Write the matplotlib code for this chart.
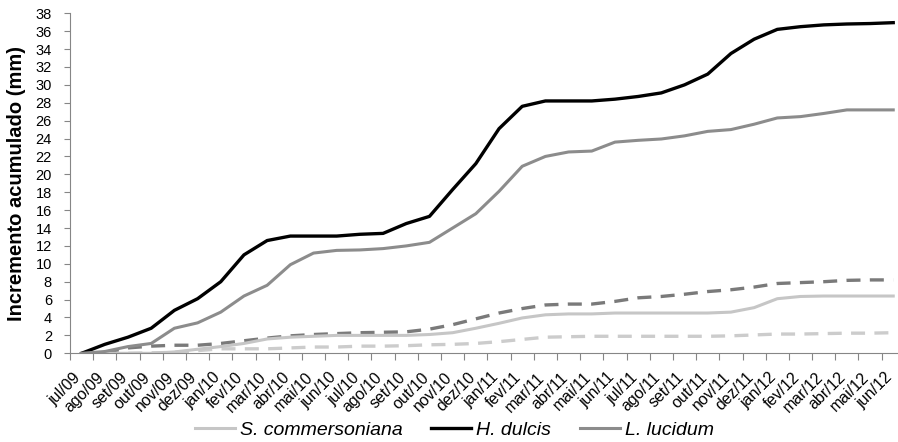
import matplotlib
matplotlib.use("Agg")
import matplotlib.pyplot as plt
import numpy as np

plt.rcParams['font.family'] = ['Liberation Sans', 'DejaVu Sans']

meses = ["jul/09", "ago/09", "set/09", "out/09", "nov/09", "dez/09",
         "jan/10", "fev/10", "mar/10", "abr/10", "mai/10", "jun/10",
         "jul/10", "ago/10", "set/10", "out/10", "nov/10", "dez/10",
         "jan/11", "fev/11", "mar/11", "abr/11", "mai/11", "jun/11",
         "jul/11", "ago/11", "set/11", "out/11", "nov/11", "dez/11",
         "jan/12", "fev/12", "mar/12", "abr/12", "mai/12", "jun/12"]

s_comm = [0, 0, 0, 0, 0.15, 0.45, 0.75, 1.1, 1.6, 1.8, 1.9, 2.0,
          2.0, 2.0, 2.0, 2.1, 2.3, 2.8, 3.35, 3.95, 4.3, 4.4, 4.4, 4.5,
          4.5, 4.5, 4.5, 4.5, 4.6, 5.1, 6.1, 6.35, 6.4, 6.4, 6.4, 6.4]

h_dulcis = [0, 1.0, 1.8, 2.8, 4.8, 6.1, 8.0, 11.0, 12.6, 13.1, 13.1, 13.1,
            13.3, 13.4, 14.5, 15.3, 18.3, 21.2, 25.1, 27.6, 28.2, 28.2, 28.2, 28.4,
            28.7, 29.1, 30.0, 31.2, 33.5, 35.1, 36.2, 36.5, 36.7, 36.8, 36.85, 36.95]

l_lucidum = [0, 0.2, 0.75, 1.1, 2.8, 3.4, 4.6, 6.4, 7.6, 9.9, 11.2, 11.5,
             11.55, 11.7, 12.0, 12.4, 14.0, 15.6, 18.1, 20.9, 22.0, 22.5, 22.6, 23.6,
             23.8, 23.95, 24.3, 24.8, 25.0, 25.6, 26.3, 26.45, 26.8, 27.2, 27.2, 27.2]

# linhas tracejadas (sem legenda)
trac_claro = [0, 0, 0, 0.05, 0.1, 0.3, 0.5, 0.5, 0.5, 0.6, 0.7, 0.7,
              0.8, 0.8, 0.85, 0.95, 1.0, 1.1, 1.3, 1.55, 1.8, 1.85, 1.9, 1.9,
              1.9, 1.9, 1.9, 1.9, 1.95, 2.05, 2.15, 2.15, 2.2, 2.25, 2.25, 2.3]

trac_escuro = [0, 0.1, 0.6, 0.8, 0.9, 0.9, 1.1, 1.4, 1.7, 1.95, 2.1, 2.2,
               2.3, 2.35, 2.4, 2.7, 3.2, 3.85, 4.5, 5.0, 5.4, 5.5, 5.5, 5.8,
               6.2, 6.35, 6.6, 6.9, 7.1, 7.4, 7.8, 7.9, 8.0, 8.15, 8.2, 8.2]

x = np.arange(len(meses))

fig = plt.figure(figsize=(8.98, 4.42), dpi=100)
ax = fig.add_axes([0.078, 0.2007, 0.9296, 0.7693])

ax.plot(x, trac_claro, '--', color='#cccccc', lw=2.4, dashes=(4.2, 2.8))
ax.plot(x, trac_escuro, '--', color='#7a7a7a', lw=2.4, dashes=(4.2, 2.8))
ax.plot(x, s_comm, color='#c6c6c6', lw=2.2, label='S. commersoniana')
ax.plot(x, h_dulcis, color='#000000', lw=2.4, label='H. dulcis')
ax.plot(x, l_lucidum, color='#8c8c8c', lw=2.2, label='L. lucidum')

ax.set_xlim(-0.5, len(meses) - 0.5)
ax.set_ylim(0, 38)
ax.set_yticks(range(0, 39, 2))
ax.tick_params(axis='y', labelsize=10.5, length=4, color='#868686', pad=9)

ax.set_xticks(np.arange(-0.5, len(meses), 1))
ax.set_xticklabels([])
ax.set_xticks(x, minor=True)
ax.set_xticklabels(meses, minor=True, rotation=45, ha='right', va='baseline',
                   rotation_mode='anchor', fontsize=11.5)
ax.tick_params(axis='x', which='major', length=5, color='#868686')
ax.tick_params(axis='x', which='minor', length=0, pad=18)

for s in ['top', 'right']:
    ax.spines[s].set_visible(False)
for s in ['left', 'bottom']:
    ax.spines[s].set_color('#868686')

ax.set_ylabel('Incremento acumulado (mm)', fontsize=14.5, fontweight='bold')
ax.yaxis.set_label_coords(-0.053, 0.5)

leg = fig.legend(loc='center', bbox_to_anchor=(0.506, 0.027), ncol=3, frameon=False,
                 prop={'style': 'italic', 'size': 14}, handlelength=2.05,
                 handletextpad=0.25, columnspacing=1.5)

fig.savefig('out.png', dpi=100)
